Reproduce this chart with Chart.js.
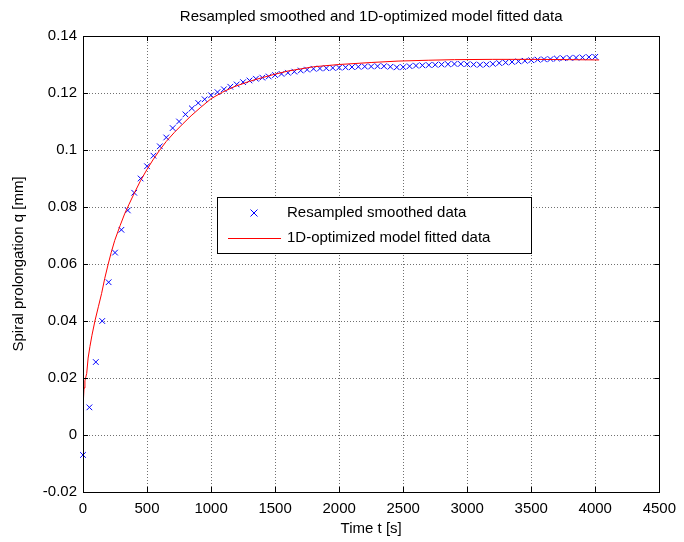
<!DOCTYPE html>
<html>
<head>
<meta charset="utf-8">
<script src="https://cdn.jsdelivr.net/npm/chart.js@4.4.1/dist/chart.umd.min.js"></script>
<style>
  html, body { margin: 0; padding: 0; background: #fff; }
  #wrap { width: 684px; height: 542px; }
</style>
</head>
<body>
<div id="wrap"><canvas id="grafico"></canvas></div>
<script>
//Datos
const chartTitle = 'Resampled smoothed and 1D-optimized model fitted data';
const xTitle = 'Time t [s]';
const yTitle = 'Spiral prolongation q [mm]';
const xTicks = [0, 500, 1000, 1500, 2000, 2500, 3000, 3500, 4000, 4500];
const yTicks = [-0.02, 0, 0.02, 0.04, 0.06, 0.08, 0.1, 0.12, 0.14];

// puntos medidos (cada 50 s)
const tiempos = [0, 50, 100, 150, 200, 250, 300, 350, 400, 450, 500, 550, 600, 650, 700, 750, 800, 850, 900, 950,
  1000, 1050, 1100, 1150, 1200, 1250, 1300, 1350, 1400, 1450, 1500, 1550, 1600, 1650, 1700, 1750, 1800, 1850, 1900, 1950,
  2000, 2050, 2100, 2150, 2200, 2250, 2300, 2350, 2400, 2450, 2500, 2550, 2600, 2650, 2700, 2750, 2800, 2850, 2900, 2950,
  3000, 3050, 3100, 3150, 3200, 3250, 3300, 3350, 3400, 3450, 3500, 3550, 3600, 3650, 3700, 3750, 3800, 3850, 3900, 3950, 4000];
const medidos = [-0.0070, 0.0097, 0.0256, 0.0400, 0.0536, 0.0640, 0.0720, 0.0788, 0.0850, 0.0900, 0.0943, 0.0980, 0.1013, 0.1044, 0.1077, 0.1100, 0.1125, 0.1146, 0.1165, 0.1178,
  0.1192, 0.1203, 0.1213, 0.1222, 0.1230, 0.1238, 0.1244, 0.1250, 0.1254, 0.1258, 0.1263, 0.1267, 0.1271, 0.1275, 0.1279, 0.1282, 0.1285, 0.1286, 0.1287, 0.1288,
  0.1289, 0.1290, 0.1291, 0.1292, 0.1293, 0.1293, 0.1294, 0.1294, 0.1292, 0.1290, 0.1291, 0.1294, 0.1296, 0.1297, 0.1298, 0.1299, 0.1300, 0.1301, 0.1302, 0.1302,
  0.1301, 0.1300, 0.1299, 0.1300, 0.1302, 0.1305, 0.1307, 0.1309, 0.1311, 0.1313, 0.1315, 0.1317, 0.1318, 0.1319, 0.1321, 0.1322, 0.1323, 0.1324, 0.1325, 0.1326, 0.1327];

// curva del modelo
const tModelo = [0, 3, 8, 15, 29, 40, 54, 70, 93, 120, 145, 170, 197, 220, 248, 290, 326, 360, 400, 450, 500, 550, 598, 650,
  714, 780, 844, 920, 1000, 1090, 1180, 1300, 1400, 1491, 1600, 1800, 2000, 2250, 2460, 2700, 2900, 3200, 3500, 3800, 4030];
const qModelo = [0.0030, 0.0120, 0.0165, 0.0190, 0.0216, 0.0270, 0.0310, 0.0350, 0.0400, 0.0450, 0.0496, 0.0550, 0.0600, 0.0640,
  0.0683, 0.0735, 0.0777, 0.0810, 0.0848, 0.0893, 0.0932, 0.0968, 0.0999, 0.1030, 0.1062, 0.1092, 0.1120, 0.1150, 0.1180, 0.1203,
  0.1222, 0.1241, 0.1254, 0.1265, 0.1277, 0.1292, 0.1300, 0.1307, 0.1312, 0.1315, 0.1317, 0.1318, 0.1318, 0.1317, 0.1316];

const fuente = 'Liberation Sans, Arial, sans-serif';
const tamTexto = 15;

//Caja, ticks interiores, titulo y leyenda
const pluginMarco = {
  id: 'marco',
  afterDraw(chart) {
    const { ctx, chartArea: a, scales } = chart;
    ctx.save();
    ctx.setLineDash([]);
    ctx.strokeStyle = '#000';
    ctx.lineWidth = 1;
    ctx.strokeRect(Math.round(a.left) + 0.5, Math.round(a.top) + 0.5, Math.round(a.right - a.left), Math.round(a.bottom - a.top));
    ctx.beginPath();
    xTicks.forEach(v => {
      const x = Math.round(scales.x.getPixelForValue(v)) + 0.5;
      ctx.moveTo(x, a.bottom); ctx.lineTo(x, a.bottom - 5);
      ctx.moveTo(x, a.top); ctx.lineTo(x, a.top + 5);
    });
    yTicks.forEach(v => {
      const y = Math.round(scales.y.getPixelForValue(v)) + 0.5;
      ctx.moveTo(a.left, y); ctx.lineTo(a.left + 5, y);
      ctx.moveTo(a.right, y); ctx.lineTo(a.right - 5, y);
    });
    ctx.stroke();

    // titulo
    ctx.fillStyle = '#000';
    ctx.font = tamTexto + 'px ' + fuente;
    ctx.textAlign = 'center';
    ctx.textBaseline = 'middle';
    ctx.fillText(chartTitle, (a.left + a.right) / 2, 17);

    // leyenda
    const lx = a.left + 134, ly = a.top + 161, lw = 314, lh = 56;
    ctx.fillStyle = '#fff';
    ctx.fillRect(lx, ly, lw, lh);
    ctx.strokeStyle = '#000';
    ctx.strokeRect(lx + 0.5, ly + 0.5, lw, lh);
    ctx.strokeStyle = '#0000ff';
    ctx.beginPath();
    ctx.moveTo(lx + 33.5, ly + 12.5); ctx.lineTo(lx + 40.5, ly + 19.5);
    ctx.moveTo(lx + 40.5, ly + 12.5); ctx.lineTo(lx + 33.5, ly + 19.5);
    ctx.stroke();
    ctx.strokeStyle = '#ff0000';
    ctx.beginPath();
    ctx.moveTo(lx + 11, ly + 41.5); ctx.lineTo(lx + 64, ly + 41.5);
    ctx.stroke();
    ctx.fillStyle = '#000';
    ctx.font = tamTexto + 'px ' + fuente;
    ctx.textAlign = 'left';
    ctx.fillText('Resampled smoothed data', lx + 70, ly + 16);
    ctx.fillText('1D-optimized model fitted data', lx + 70, ly + 41);
    ctx.restore();
  }
};

const datos = {
  datasets: [
    {
      label: 'Resampled smoothed data',
      data: tiempos.map((t, i) => ({ x: t, y: medidos[i] })),
      showLine: false,
      pointStyle: 'crossRot',
      pointRadius: 4,
      borderColor: 'rgb(0,0,255)',
      borderWidth: 1,
      clip: false,
      order: 2
    },
    {
      label: '1D-optimized model fitted data',
      data: tModelo.map((t, i) => ({ x: t, y: qModelo[i] })),
      showLine: true,
      pointRadius: 0,
      borderColor: 'rgb(255,0,0)',
      borderWidth: 1,
      tension: 0,
      order: 1
    }
  ]
};

const config = {
  type: 'scatter',
  data: datos,
  options: {
    responsive: true,
    maintainAspectRatio: false,
    animation: false,
    layout: { padding: { top: 36, right: 21, left: 0, bottom: 0 } },
    plugins: {
      legend: { display: false },
      tooltip: { enabled: false },
      title: { display: false }
    },
    scales: {
      x: {
        type: 'linear',
        min: 0, max: 4500,
        afterFit: s => { s.height = 50; },
        afterBuildTicks: s => { s.ticks = xTicks.map(v => ({ value: v })); },
        grid: { color: '#707070', drawTicks: false },
        border: { display: false, dash: [1, 2] },
        ticks: { color: '#000', font: { family: fuente, size: tamTexto }, padding: 8, maxRotation: 0,
          callback: v => String(v) },
        title: { display: true, text: xTitle, color: '#000', font: { family: fuente, size: tamTexto }, padding: { top: 0 } }
      },
      y: {
        min: -0.02, max: 0.14,
        afterFit: s => { s.width = 83; },
        afterBuildTicks: s => { s.ticks = yTicks.map(v => ({ value: v })); },
        grid: { color: '#707070', drawTicks: false },
        border: { display: false, dash: [1, 2] },
        ticks: { color: '#000', font: { family: fuente, size: tamTexto }, padding: 6,
          callback: v => String(Math.round(v * 100) / 100) },
        title: { display: true, text: yTitle, color: '#000', font: { family: fuente, size: tamTexto }, padding: { top: 10, bottom: 0 } }
      }
    }
  },
  plugins: [pluginMarco]
};

new Chart(document.querySelector('#grafico'), config);
</script>
</body>
</html>
